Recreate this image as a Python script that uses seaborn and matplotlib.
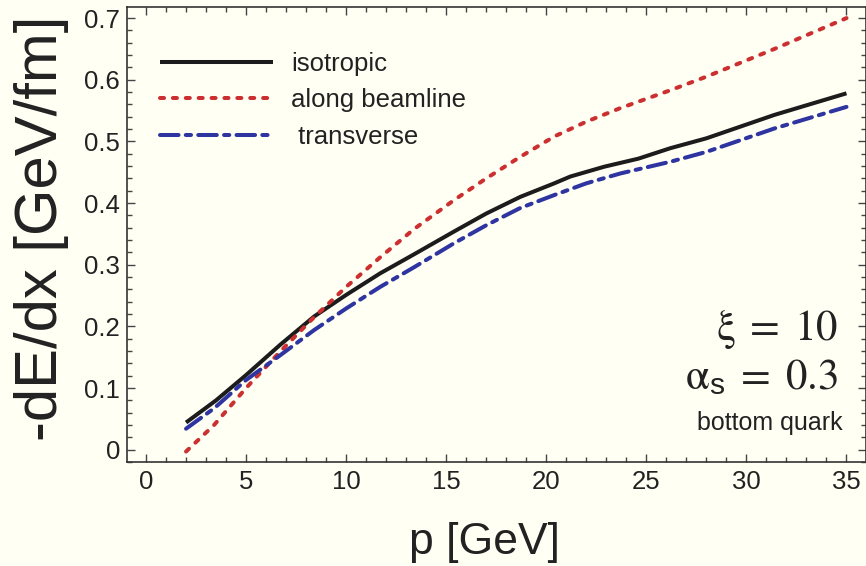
import numpy as np
import pandas as pd
import matplotlib
matplotlib.use("Agg")
import matplotlib.pyplot as plt
from matplotlib.ticker import MultipleLocator
import seaborn as sns

# ---- data ----
iso_p = [2, 3.5, 5, 6.7, 8.4, 10, 11.7, 13.4, 15.4, 17, 18.7, 20.4, 21.2, 22.9, 24.6, 26.2, 28, 31.4, 35]
iso_E = [0.044, 0.080, 0.121, 0.170, 0.216, 0.251, 0.286, 0.317, 0.354, 0.383, 0.410, 0.432, 0.443,
         0.459, 0.472, 0.489, 0.505, 0.543, 0.578]

beam_p = [2, 3.4, 5, 6.7, 8.4, 10, 11.7, 13.4, 15.4, 17, 18.7, 20.4, 22, 23.7, 26.2, 28, 31.4, 35]
beam_E = [-0.003, 0.040, 0.100, 0.159, 0.215, 0.264, 0.312, 0.358, 0.405, 0.440, 0.475, 0.508,
          0.532, 0.554, 0.583, 0.605, 0.650, 0.700]

trans_p = [2, 3.4, 5, 6.7, 8.4, 10, 11.7, 13.4, 15.4, 17, 18.7, 20.4, 22, 23.7, 26.2, 28, 31.4, 35]
trans_E = [0.034, 0.067, 0.113, 0.153, 0.194, 0.229, 0.264, 0.296, 0.335, 0.364, 0.392, 0.413,
           0.432, 0.448, 0.467, 0.483, 0.521, 0.556]

labels = ["isotropic", "along beamline", " transverse"]
x_ticks = [0, 5, 10, 15, 20, 25, 30, 35]
y_ticks = [0, 0.1, 0.2, 0.3, 0.4, 0.5, 0.6, 0.7]

# ---- style ----
sns.set_theme(style="ticks")
plt.rcParams["font.family"] = ["Liberation Sans", "DejaVu Sans"]
plt.rcParams["mathtext.fontset"] = "custom"
plt.rcParams["mathtext.rm"] = "STIXGeneral"
plt.rcParams["mathtext.it"] = "STIXGeneral:italic"
plt.rcParams["mathtext.bf"] = "STIXGeneral:bold"
plt.rcParams["mathtext.sf"] = "Liberation Sans"

BG = "#FFFFF4"
TXT = "#222222"
fig = plt.figure(figsize=(8.66, 5.66), dpi=100, facecolor=BG)
ax = fig.add_axes([127 / 866, 1 - 462 / 566, (865.5 - 127) / 866, (462 - 7) / 566])
ax.set_facecolor(BG)

lw = 2.9
sns.lineplot(x=iso_p, y=iso_E, ax=ax, color="#1c1c1c", lw=lw, label=labels[0],
             solid_capstyle="butt")
sns.lineplot(x=beam_p, y=beam_E, ax=ax, color="#cc2f2f", lw=lw, label=labels[1],
             linestyle=(0, (1.0, 2.2)), dash_capstyle="round")
sns.lineplot(x=trans_p, y=trans_E, ax=ax, color="#2e34a0", lw=lw, label=labels[2],
             linestyle=(0, (4.6, 1.8, 1.3, 1.8)), dash_capstyle="round")

ax.set_xlim(-0.95, 35.95)
ax.set_ylim(-0.02, 0.718)
ax.set_xticks(x_ticks)
ax.set_yticks(y_ticks)
ax.set_xticklabels([str(v) for v in x_ticks])
ax.set_yticklabels(["0"] + [f"{v:.1f}" for v in y_ticks[1:]])
ax.xaxis.set_minor_locator(MultipleLocator(1))
ax.yaxis.set_minor_locator(MultipleLocator(0.02))
ax.tick_params(which="both", direction="in", top=True, right=True, colors="#444444",
               labelcolor=TXT, width=1.0)
ax.tick_params(which="major", length=6, labelsize=18.5)
ax.tick_params(axis="x", which="major", pad=6)
ax.tick_params(axis="y", which="major", pad=5)
ax.tick_params(which="minor", length=3.5)
for s in ax.spines.values():
    s.set_visible(True)
    s.set_color("#333333")
    s.set_linewidth(1.2)

ax.set_xlabel("")
ax.set_ylabel("")
fig.text(484 / 866, 1 - 554 / 566, "p [GeV]", fontsize=32, color=TXT,
         ha="center", va="baseline")
fig.text(42 / 866, 1 - 228 / 566, "-dE/dx [GeV/fm]", fontsize=43, color=TXT,
         ha="center", va="center", rotation=90)

fig.text(838 / 866, 1 - 340 / 566, r"$\mathrm{\xi\;=\;10}$", fontsize=31, color=TXT,
         ha="right", va="baseline")
fig.text(838 / 866, 1 - 389 / 566, r"$\mathrm{\alpha}_{\mathsf{s}}\mathrm{\;=\;0.3}$",
         fontsize=31, color=TXT, ha="right", va="baseline")
fig.text(843 / 866, 1 - 430 / 566, "bottom quark", fontsize=18, color=TXT,
         ha="right", va="baseline")

leg = ax.legend(loc="upper left", bbox_to_anchor=((160 - 127) / 738.5, 0.902),
                frameon=False, fontsize=18.5, handlelength=4.4, handletextpad=0.7,
                labelspacing=0.5, borderpad=0, borderaxespad=0)
for t in leg.get_texts():
    t.set_color(TXT)

fig.savefig("out.png", dpi=100, facecolor=BG)
